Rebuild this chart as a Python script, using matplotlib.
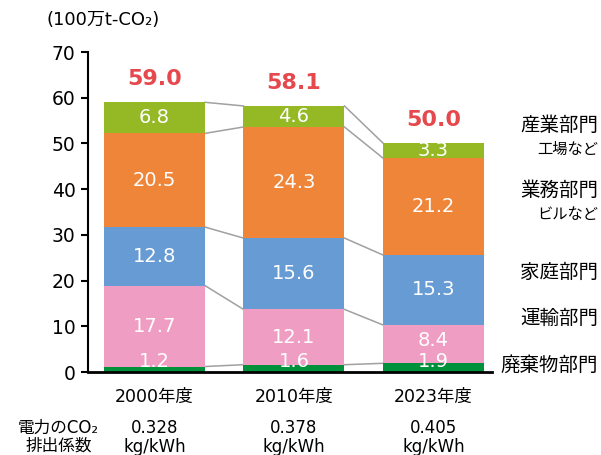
import numpy as np
import matplotlib
matplotlib.use("Agg")
import matplotlib.pyplot as plt

plt.rcParams['font.family'] = ['DejaVu Sans', 'Noto Sans CJK JP']

# data
years = ["2000年度", "2010年度", "2023年度"]
factors = ["0.328", "0.378", "0.405"]
totals = ["59.0", "58.1", "50.0"]
sectors = ["廃棄物部門", "運輸部門", "家庭部門", "業務部門", "産業部門"]
sub_notes = ["", "", "", "ビルなど", "工場など"]
waste = [1.2, 1.6, 1.9]
transport = [17.7, 12.1, 8.4]
household = [12.8, 15.6, 15.3]
business = [20.5, 24.3, 21.2]
industry = [6.8, 4.6, 3.3]

colors = ["#00913A", "#F09DC3", "#669BD3", "#EF8538", "#94B925"]

series = np.array([waste, transport, household, business, industry])
x = np.arange(len(years))
w = 0.724

fig = plt.figure(figsize=(6.01, 4.55), dpi=100)
ax = fig.add_axes([0.1464, 0.1824, 0.672, 0.7033])

bottom = np.zeros(len(years))
prev_label = np.full(len(years), -10.0)
for i, vals in enumerate(series):
    ax.bar(x, vals, w, bottom=bottom, color=colors[i], zorder=2)
    for j, v in enumerate(vals):
        if v < 3 and i == 0:
            ty = 2.4
        else:
            ty = max(bottom[j] + v / 2, prev_label[j] + 4.6)
        prev_label[j] = ty
        ax.text(x[j], ty, f"{v:.1f}", ha='center', va='center',
                color='white', fontsize=14, zorder=4)
    bottom = bottom + vals
    # connector lines between bars
    for j in range(len(years) - 1):
        ax.plot([x[j] + w / 2, x[j + 1] - w / 2], [bottom[j], bottom[j + 1]],
                color='#A0A0A0', lw=1.1, zorder=1)

for j, t in enumerate(totals):
    ax.text(x[j], bottom[j] + 5.0, t, ha='center', va='center',
            color='#E5484D', fontsize=16, fontweight='bold')

ax.set_xlim(-0.477, 2.419)
ax.set_ylim(0, 70)
ax.set_yticks(range(0, 71, 10))
ax.tick_params(axis='y', labelsize=13.5, length=5, width=1.5, pad=4)
ax.set_xticks([])
for s in ['top', 'right']:
    ax.spines[s].set_visible(False)
ax.spines['left'].set_linewidth(1.5)
ax.spines['bottom'].set_linewidth(2)

for j, yr in enumerate(years):
    ax.text(x[j], -5.5, yr, ha='center', va='center', fontsize=12.5,
            clip_on=False)
    ax.text(x[j], -12.3, factors[j], ha='center', va='center', fontsize=12,
            clip_on=False)
    ax.text(x[j], -16.3, "kg/kWh", ha='center', va='center', fontsize=12,
            clip_on=False)

fig.text(0.097, 1 - 428 / 455, "電力のCO₂", ha='center', va='center', fontsize=12)
fig.text(0.097, 1 - 446 / 455, "排出係数", ha='center', va='center', fontsize=12)

fig.text(0.078, 1 - 20 / 455, "(100万t-CO₂)", ha='left', va='center', fontsize=13)

# right side labels
label_y = [365, 318, 272, 190, 125]
for name, note, py in zip(sectors, sub_notes, label_y):
    fig.text(0.995, 1 - py / 455, name, ha='right', va='center', fontsize=14)
    if note:
        fig.text(0.995, 1 - (py + 24) / 455, note, ha='right', va='center',
                 fontsize=11)

fig.savefig("out.png", dpi=100)
